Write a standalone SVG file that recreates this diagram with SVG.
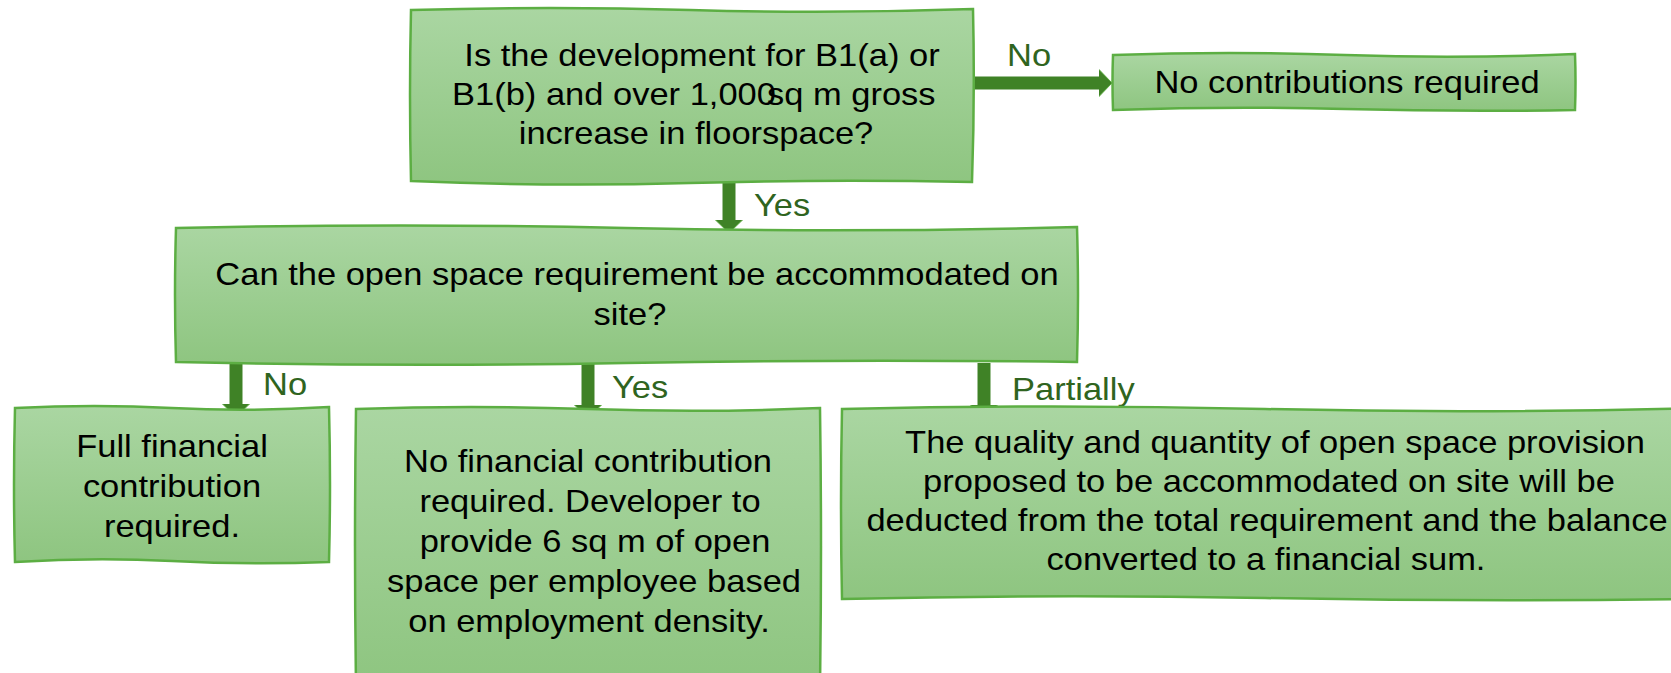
<svg xmlns="http://www.w3.org/2000/svg" width="1671" height="673" viewBox="0 0 1671 673">
  <style>
    .box { fill: url(#g); stroke: #5cae43; stroke-width: 2.5; }
    .t { font-family: "Liberation Sans", Arial, sans-serif; font-size: 31.5px; fill: #000; text-anchor: middle; }
    .s { text-anchor: start; }
    .lbl { font-family: "Liberation Sans", Arial, sans-serif; font-size: 31.5px; fill: #2f6420; }
    .arr { stroke: #3f8226; stroke-width: 13; fill: none; marker-end: url(#ah); }
  </style>
  <defs>
    <linearGradient id="g" x1="0" y1="0" x2="0" y2="1">
      <stop offset="0" stop-color="#aad6a2"/>
      <stop offset="1" stop-color="#8ec580"/>
    </linearGradient>
    <marker id="ah" viewBox="0 0 14 29" refX="0.5" refY="14.5" markerWidth="14" markerHeight="29" markerUnits="userSpaceOnUse" orient="auto">
      <path d="M0,0.5 L13.5,14.5 L0,28.5 Z" fill="#3f8226" stroke="#5aa83f" stroke-width="1"/>
    </marker>
  </defs>
  <rect width="1671" height="673" fill="#fff"/>

  <g id="connectors">
    <line class="arr" x1="973" y1="83" x2="1099" y2="83"/>
    <line class="arr" x1="729" y1="182" x2="729" y2="220"/>
    <line class="arr" x1="236" y1="363" x2="236" y2="404"/>
    <line class="arr" x1="588" y1="363" x2="588" y2="405"/>
    <line class="arr" x1="984" y1="363" x2="984" y2="405"/>
    <text class="lbl" transform="translate(1007 66) scale(1.095 1)">No</text>
    <text class="lbl" transform="translate(754 216) scale(1.095 1)">Yes</text>
    <text class="lbl" transform="translate(263 395) scale(1.095 1)">No</text>
    <text class="lbl" transform="translate(612 398) scale(1.095 1)">Yes</text>
    <text class="lbl" transform="translate(1012 400) scale(1.095 1)">Partially</text>
  </g>

  <g id="n1">
    <path class="box" d="M411,10 Q550,6 690,10 T973,9 Q975,95 972,182 Q830,179 690,183 T411,181 Q409,95 411,10 Z"/>
    <text class="t" transform="translate(702 66) scale(1.095 1)">Is the development for B1(a) or</text>
    <text class="t s" transform="translate(452 105) scale(1.095 1)">B1(b) and over 1,000</text>
    <text class="t s" transform="translate(767 105) scale(1.095 1)">sq m gross</text>
    <text class="t" transform="translate(696 144) scale(1.095 1)">increase in floorspace?</text>
  </g>

  <g id="n2">
    <path class="box" d="M1113,55 Q1230,51 1345,55 T1575,54 Q1576,82 1575,110 Q1460,112 1345,109 T1113,110 Q1112,82 1113,55 Z"/>
    <text class="t" transform="translate(1347 93) scale(1.095 1)">No contributions required</text>
  </g>

  <g id="n3">
    <path class="box" d="M176,228 Q400,223 626,228 T1077,227 Q1079,295 1077,362 Q850,359 626,363 T176,362 Q174,295 176,228 Z"/>
    <text class="t" transform="translate(637 285) scale(1.095 1)">Can the open space requirement be accommodated on</text>
    <text class="t" transform="translate(630 325) scale(1.095 1)">site?</text>
  </g>

  <g id="n4">
    <path class="box" d="M15,408 Q95,404 172,408 T329,407 Q331,485 329,562 Q250,565 172,561 T15,562 Q13,485 15,408 Z"/>
    <text class="t" transform="translate(172 457) scale(1.095 1)">Full financial</text>
    <text class="t" transform="translate(172 497) scale(1.095 1)">contribution</text>
    <text class="t" transform="translate(172 537) scale(1.095 1)">required.</text>
  </g>

  <g id="n5">
    <path class="box" d="M356,409 Q470,405 588,409 T820,408 Q822,545 820,685 L356,685 Q354,545 356,409 Z"/>
    <text class="t" transform="translate(588 472) scale(1.095 1)">No financial contribution</text>
    <text class="t" transform="translate(590 512) scale(1.095 1)">required. Developer to</text>
    <text class="t" transform="translate(595 552) scale(1.095 1)">provide 6 sq m of open</text>
    <text class="t" transform="translate(594 592) scale(1.095 1)">space per employee based</text>
    <text class="t" transform="translate(589 632) scale(1.095 1)">on employment density.</text>
  </g>

  <g id="n6">
    <path class="box" d="M842,409 Q1050,404 1265,409 T1695,408 L1695,599 Q1480,602 1265,598 T842,599 Q840,505 842,409 Z"/>
    <text class="t" transform="translate(1275 453) scale(1.095 1)">The quality and quantity of open space provision</text>
    <text class="t" transform="translate(1269 492) scale(1.095 1)">proposed to be accommodated on site will be</text>
    <text class="t" transform="translate(1267 531) scale(1.095 1)">deducted from the total requirement and the balance</text>
    <text class="t" transform="translate(1266 570) scale(1.095 1)">converted to a financial sum.</text>
  </g>
</svg>
